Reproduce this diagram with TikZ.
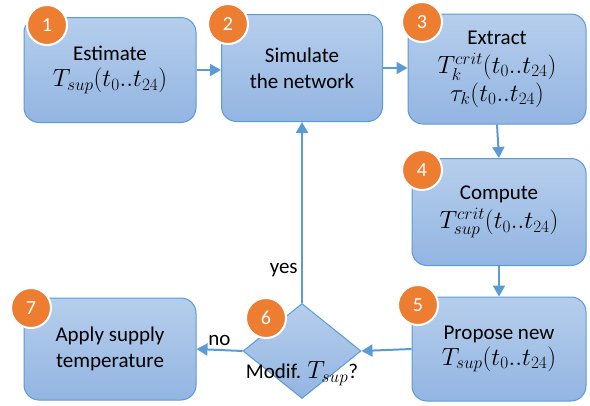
\documentclass[tikz,border=0pt]{standalone}
\usepackage{amsmath}
\usepackage{fontspec}
\setmainfont{Carlito}
\usetikzlibrary{arrows.meta,shapes.geometric}

\definecolor{boxtop}{HTML}{B6CEEC}
\definecolor{boxbot}{HTML}{93B5E2}
\definecolor{boxline}{HTML}{5B9BD5}
\definecolor{stepnum}{HTML}{ED7D31}

% bigger math, to come near the wide formulas of the reference
\newcommand{\fml}[1]{{\fontsize{25}{27}\selectfont$#1$}}

\tikzset{
	stepbox/.style={draw=boxline, line width=1pt, rounded corners=15pt, top color=boxtop, bottom color=boxbot, align=center, inner sep=0pt},
	decide/.style={diamond, draw=boxline, line width=1pt, top color=boxtop, bottom color=boxbot, inner sep=0pt},
	numdot/.style={circle, fill=stepnum, draw=white, line width=2pt, minimum size=40pt, inner sep=0pt, text=white, font=\fontsize{20}{20}\selectfont},
	flow/.style={draw=boxline, line width=2pt, -{Triangle[length=11pt,width=12pt]}},
	lbl/.style={font=\fontsize{21}{26}\selectfont}
}

\begin{document}
\begin{tikzpicture}[x=1pt, y=-1pt, font=\fontsize{21}{26}\selectfont]
		\useasboundingbox (0,0) rectangle (590,405);
		% boxes
		\node[stepbox, minimum width=172pt, minimum height=105pt] (est) at (110,70) {Estimate\\\fml{T_{sup}(t_0..t_{24})}};
		\node[stepbox, minimum width=161pt, minimum height=107pt] (sim) at (302,68) {Simulate\\the network};
		\node[stepbox, minimum width=178pt, minimum height=110pt] (ext) at (497,69) {Extract\\[3pt]\fml{T_k^{crit}(t_0..t_{24})}\\[2pt]\fml{\tau_k(t_0..t_{24})}};
		\node[stepbox, minimum width=174pt, minimum height=107pt] (comp) at (499,212) {Compute\\[3pt]\fml{T_{sup}^{crit}(t_0..t_{24})}};
		\node[stepbox, minimum width=174pt, minimum height=104pt] (prop) at (499,349) {Propose new\\\fml{T_{sup}(t_0..t_{24})}};
		\node[stepbox, minimum width=172pt, minimum height=102pt] (apply) at (110,349) {Apply supply\\temperature};
		\node[decide, minimum width=118pt, minimum height=95pt] (modif) at (302,351) {};
		\node[lbl] (modiftxt) at (302,374) {Modif. \fml{T_{sup}}?};

		% arrows
		\draw[flow] (est.east) -- (est.east -| sim.west);
		\draw[flow] (sim.east) -- (sim.east -| ext.west);
		\draw[flow] (ext.south) -- (comp.north);
		\draw[flow] (comp.south) -- (prop.north);
		\draw[flow] (prop.west) -- (modif.east);
		\draw[flow] (modif.west) -- node[lbl, above] {no} (apply.east);
		\draw[flow] (modif.north) -- node[lbl, left, pos=0.18] {yes} (sim.south);

		% step numbers
		\node[numdot] (n1) at (47,25) {1};
		\node[numdot] (n2) at (228,24) {2};
		\node[numdot] (n3) at (422,22) {3};
		\node[numdot] (n4) at (422,170) {4};
		\node[numdot] (n5) at (418,305) {5};
		\node[numdot] (n6) at (266,318) {6};
		\node[numdot] (n7) at (31,308) {7};
	\end{tikzpicture}
\end{document}
